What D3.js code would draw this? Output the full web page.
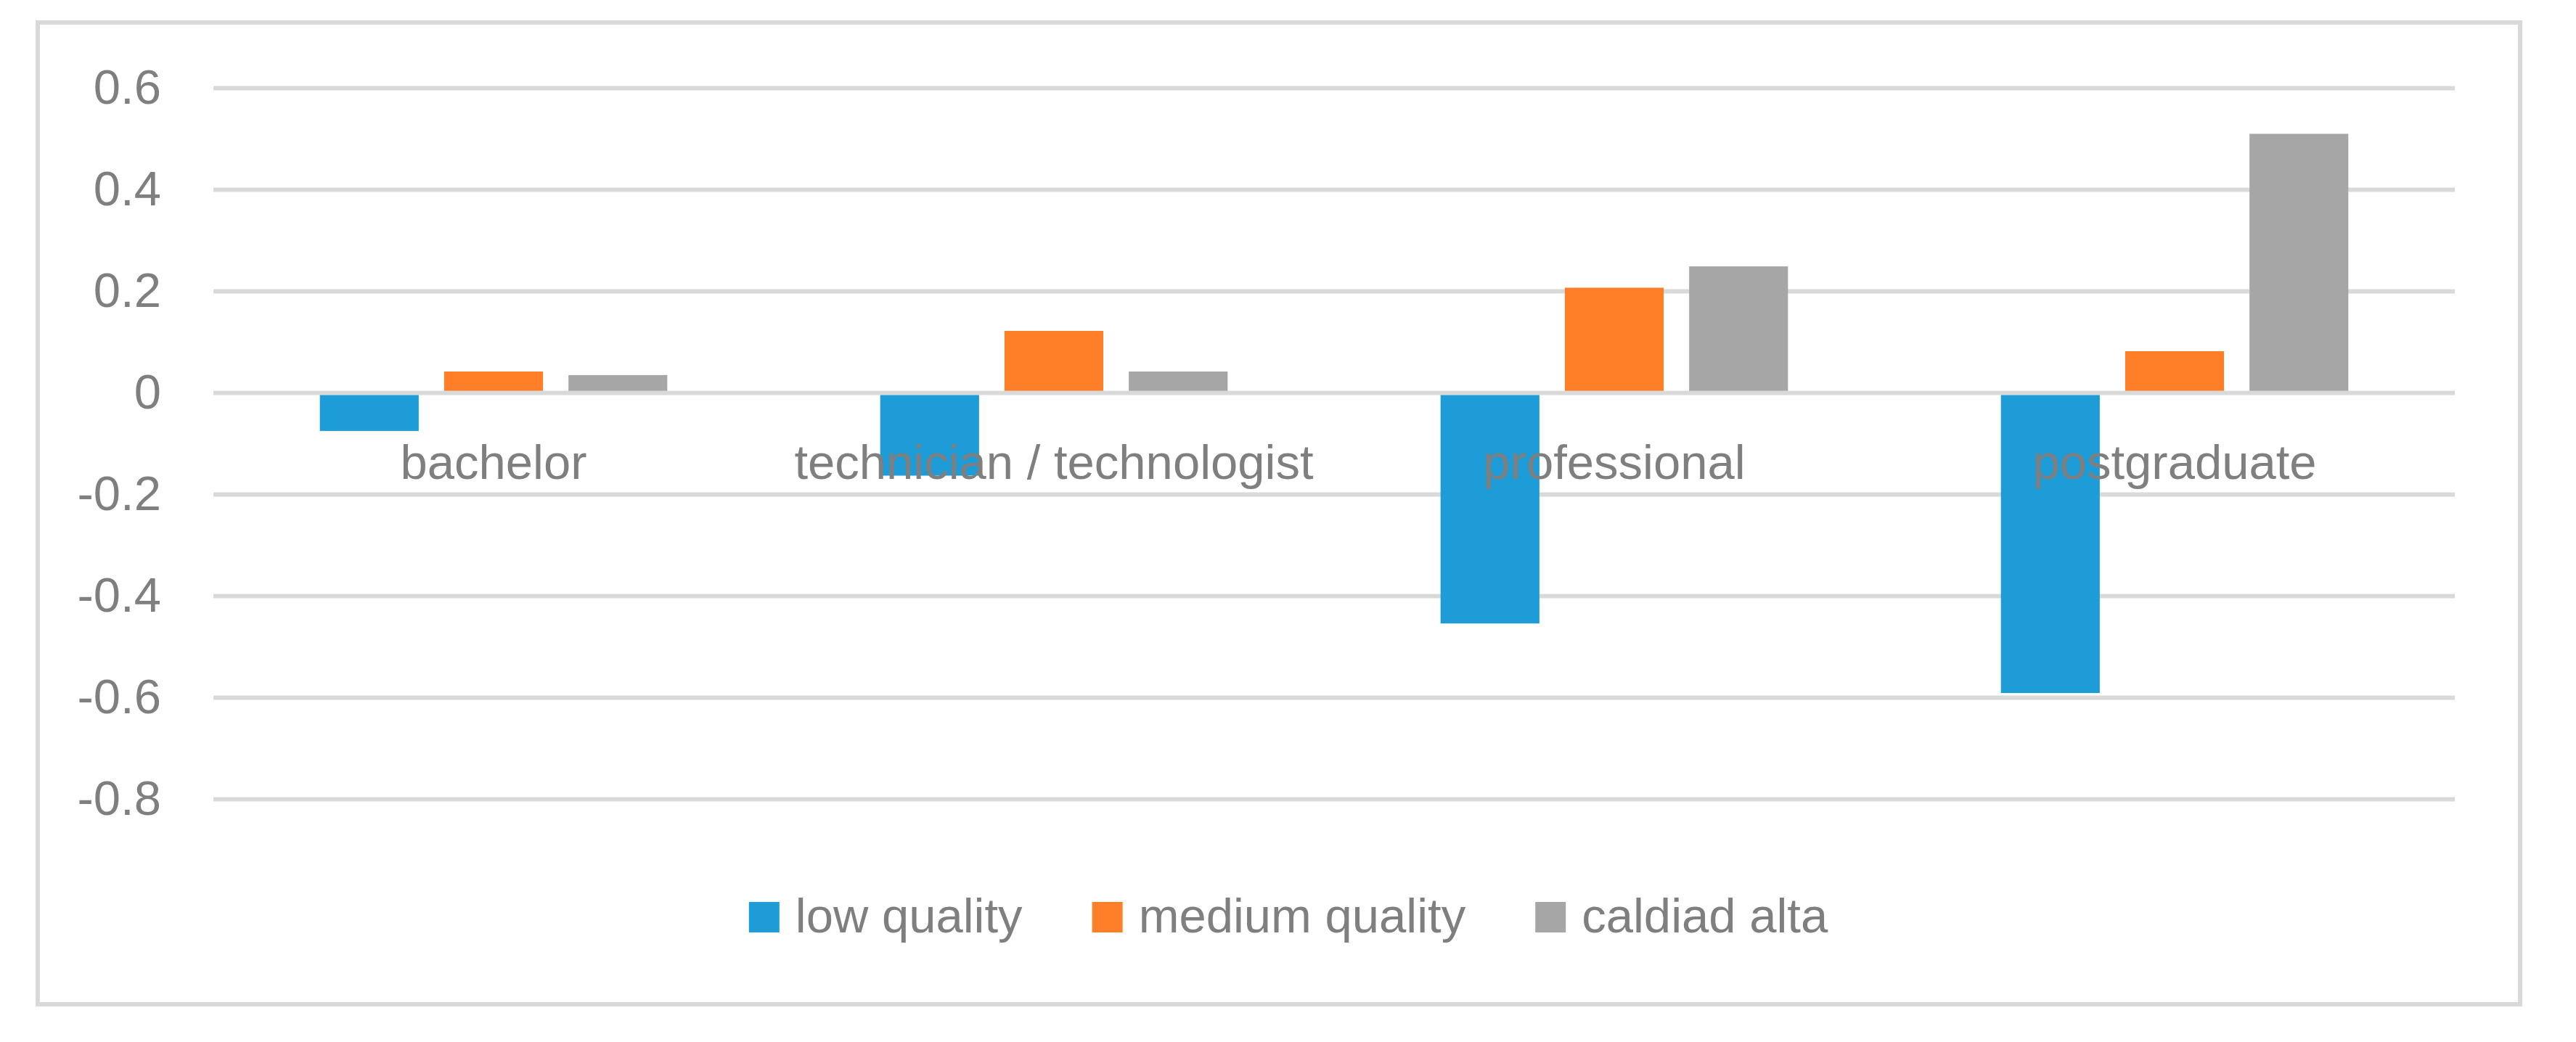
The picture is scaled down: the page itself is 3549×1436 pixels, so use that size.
<!DOCTYPE html>
<html>
<head>
<meta charset="utf-8">
<script src="https://cdn.jsdelivr.net/npm/d3@7"></script>
<style>
  html, body { margin: 0; padding: 0; background: #ffffff; }
  svg { display: block; }
  text { font-family: "Liberation Sans", Arial, sans-serif; fill: #7f7f7f; }
</style>
</head>
<body>
<svg id="chart" width="3549" height="1436"></svg>
<script>
// ---- data ----
const categories = ["bachelor", "technician / technologist", "professional", "postgraduate"];
const seriesNames = ["low quality", "medium quality", "caldiad alta"];
const lowQuality = [-0.075, -0.163, -0.454, -0.591];
const mediumQuality = [0.042, 0.122, 0.207, 0.082];
const caldiadAlta = [0.035, 0.042, 0.249, 0.510];
const yTicks = [-0.8, -0.6, -0.4, -0.2, 0, 0.2, 0.4, 0.6];
const yTickLabels = ["-0.8", "-0.6", "-0.4", "-0.2", "0", "0.2", "0.4", "0.6"];
const colors = ["#1e9cd7", "#fe7f28", "#a6a6a6"];

const seriesValues = [lowQuality, mediumQuality, caldiadAlta];

// ---- layout ----
const plot = { left: 294, right: 3382, top: 121.4, bottom: 1101.4 };
const svg = d3.select("#chart");

// outer border
svg.append("rect")
  .attr("x", 52).attr("y", 31)
  .attr("width", 3472 - 52).attr("height", 1384 - 31)
  .attr("fill", "#ffffff")
  .attr("stroke", "#d9d9d9").attr("stroke-width", 6);

const y = d3.scaleLinear().domain([-0.8, 0.6]).range([plot.bottom, plot.top]);
const x0 = d3.scaleBand().domain(categories).range([plot.left, plot.right]).paddingInner(0).paddingOuter(0);
const outerGap = x0.bandwidth() * 0.19;
const x1 = d3.scaleBand().domain(d3.range(seriesNames.length))
  .range([outerGap, x0.bandwidth() - outerGap]).paddingInner(0.2047).paddingOuter(0);

// gridlines
svg.append("g").selectAll("line").data(yTicks.filter(t => t !== 0)).join("line")
  .attr("x1", plot.left).attr("x2", plot.right)
  .attr("y1", d => y(d)).attr("y2", d => y(d))
  .attr("stroke", "#d9d9d9").attr("stroke-width", 6);

// y-axis labels via d3 axis
const yAxis = d3.axisLeft(y).tickValues(yTicks).tickSize(0).tickPadding(0)
  .tickFormat((d, i) => yTickLabels[i]);
const ya = svg.append("g").attr("transform", `translate(222,0)`).call(yAxis);
ya.select(".domain").remove();
ya.selectAll("text")
  .attr("font-family", "Liberation Sans, Arial, sans-serif")
  .attr("font-size", 67).attr("fill", "#7f7f7f")
  .attr("dy", "0.32em").attr("x", 0);

// bars
const rows = [];
categories.forEach((c, ci) => {
  seriesValues.forEach((vals, si) => rows.push({ cat: c, s: si, v: vals[ci] }));
});
svg.append("g").selectAll("rect").data(rows).join("rect")
  .attr("x", d => x0(d.cat) + x1(d.s))
  .attr("width", x1.bandwidth())
  .attr("y", d => y(Math.max(0, d.v)))
  .attr("height", d => Math.abs(y(d.v) - y(0)))
  .attr("fill", d => colors[d.s]);

// zero axis line
svg.append("line")
  .attr("x1", plot.left).attr("x2", plot.right)
  .attr("y1", y(0)).attr("y2", y(0))
  .attr("stroke", "#d9d9d9").attr("stroke-width", 6);

// category labels
svg.append("g").selectAll("text").data(categories).join("text")
  .attr("x", d => x0(d) + x0.bandwidth() / 2)
  .attr("y", 660)
  .attr("text-anchor", "middle")
  .attr("font-size", 67)
  .text(d => d);

// legend
const lg = svg.append("g");
const items = lg.selectAll("g").data(seriesNames).join("g");
items.append("rect").attr("width", 42).attr("height", 42).attr("y", 1243)
  .attr("fill", (d, i) => colors[i]);
items.append("text").attr("y", 1285).attr("font-size", 67).text(d => d);
let cx = 0;
const positions = [];
items.each(function(d, i) {
  const tw = d3.select(this).select("text").node().getComputedTextLength();
  positions.push(cx);
  cx += 42 + 22 + tw + (i < seriesNames.length - 1 ? 96 : 0);
});
const startX = 1775 - cx / 2;
items.each(function(d, i) {
  const g = d3.select(this);
  g.select("rect").attr("x", startX + positions[i]);
  g.select("text").attr("x", startX + positions[i] + 64);
});
</script>
</body>
</html>
